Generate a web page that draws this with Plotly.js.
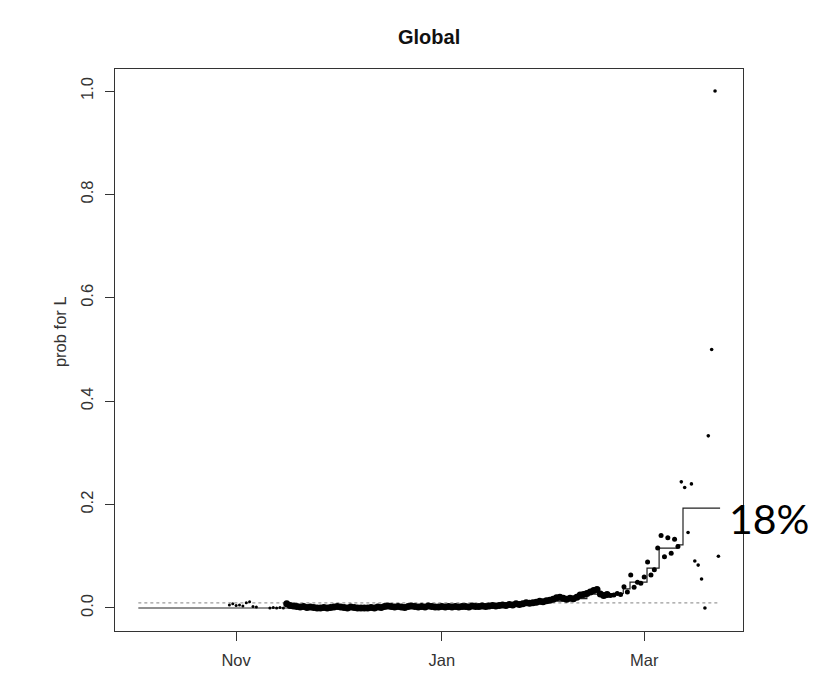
<!DOCTYPE html>
<html>
<head>
<meta charset="utf-8">
<script src="https://cdn.plot.ly/plotly-3.0.1.min.js"></script>
<style>
  html, body { margin: 0; padding: 0; background: #fff; }
  #chart { width: 826px; height: 675px; }
</style>
</head>
<body>
<div id="chart"></div>
<script>
// ---- daily estimates (dots) ----
const earlyDates = ['2019-10-30','2019-10-31','2019-11-01','2019-11-02','2019-11-03','2019-11-04','2019-11-05','2019-11-06','2019-11-07',
  '2019-11-11','2019-11-12','2019-11-13','2019-11-14','2019-11-15'];
const earlyValues = [0.006,0.008,0.005,0.006,0.004,0.010,0.012,0.003,0.002,
  0.000,0.001,0.000,0.001,0.000];

const novDates = ['2019-11-16','2019-11-17','2019-11-18','2019-11-19','2019-11-20','2019-11-21','2019-11-22','2019-11-23','2019-11-24','2019-11-25',
  '2019-11-26','2019-11-27','2019-11-28','2019-11-29','2019-11-30'];
const novValues = [0.008,0.005,0.004,0.003,0.002,0.003,0.001,0.002,0.001,0.000,0.000,0.001,0.000,0.001,0.002];

const decDates = ['2019-12-01','2019-12-02','2019-12-03','2019-12-04','2019-12-05','2019-12-06','2019-12-07','2019-12-08','2019-12-09','2019-12-10',
  '2019-12-11','2019-12-12','2019-12-13','2019-12-14','2019-12-15','2019-12-16','2019-12-17','2019-12-18','2019-12-19','2019-12-20',
  '2019-12-21','2019-12-22','2019-12-23','2019-12-24','2019-12-25','2019-12-26','2019-12-27','2019-12-28','2019-12-29','2019-12-30','2019-12-31'];
const decValues = [0.003,0.002,0.001,0.000,0.002,0.001,0.000,0.000,0.000,0.000,
  0.001,0.000,0.002,0.001,0.003,0.004,0.003,0.002,0.003,0.002,
  0.001,0.003,0.004,0.003,0.002,0.003,0.002,0.004,0.003,0.002,0.002];

const janDates = ['2020-01-01','2020-01-02','2020-01-03','2020-01-04','2020-01-05','2020-01-06','2020-01-07','2020-01-08','2020-01-09','2020-01-10',
  '2020-01-11','2020-01-12','2020-01-13','2020-01-14','2020-01-15','2020-01-16','2020-01-17','2020-01-18','2020-01-19','2020-01-20',
  '2020-01-21','2020-01-22','2020-01-23','2020-01-24','2020-01-25','2020-01-26','2020-01-27','2020-01-28','2020-01-29','2020-01-30','2020-01-31'];
const janValues = [0.003,0.002,0.003,0.002,0.003,0.002,0.003,0.003,0.002,0.004,
  0.003,0.003,0.004,0.003,0.004,0.005,0.004,0.005,0.006,0.005,
  0.007,0.006,0.008,0.007,0.008,0.010,0.009,0.010,0.011,0.013,0.012];

const febDates = ['2020-02-01','2020-02-02','2020-02-03','2020-02-04','2020-02-05','2020-02-06','2020-02-07','2020-02-08','2020-02-09','2020-02-10',
  '2020-02-11','2020-02-12','2020-02-13','2020-02-14','2020-02-15','2020-02-16','2020-02-17','2020-02-18','2020-02-19','2020-02-20',
  '2020-02-21','2020-02-22','2020-02-23','2020-02-24','2020-02-25','2020-02-26','2020-02-27','2020-02-28','2020-02-29'];
const febValues = [0.014,0.015,0.017,0.020,0.021,0.019,0.017,0.019,0.018,0.021,
  0.025,0.026,0.028,0.031,0.034,0.036,0.027,0.024,0.026,0.024,
  0.025,0.028,0.026,0.041,0.031,0.064,0.040,0.050,0.048];

const marDates = ['2020-03-01','2020-03-02','2020-03-03','2020-03-04','2020-03-05','2020-03-06','2020-03-07','2020-03-08','2020-03-09','2020-03-10',
  '2020-03-11','2020-03-12','2020-03-13','2020-03-14','2020-03-15','2020-03-16','2020-03-17','2020-03-18','2020-03-19','2020-03-20',
  '2020-03-21','2020-03-22','2020-03-23'];
const marValues = [0.060,0.089,0.064,0.074,0.116,0.140,0.099,0.136,0.106,0.133,
  0.119,0.244,0.233,0.146,0.240,0.091,0.083,0.056,0.000,0.333,
  0.500,1.000,0.100];

// ---- step estimate (solid line) ----
const stepDates = ['2019-10-03','2019-11-25','2020-01-06','2020-01-16','2020-01-24','2020-01-31','2020-02-07','2020-02-13','2020-02-19',
  '2020-02-23 19:00','2020-02-25 19:00','2020-03-01 20:00','2020-03-05 10:00','2020-03-10 18:00','2020-03-12 12:00','2020-03-23 12:00'];
const stepValues = [0,0.001,0.003,0.005,0.008,0.013,0.018,0.027,0.028,
  0.037,0.050,0.077,0.116,0.122,0.193,0.193];

// ---- baseline (dotted) ----
const baseDates = ['2019-10-03','2020-03-23'];
const baseValues = [0.01,0.01];

// ---- labels ----
const chartTitle = 'Global';
const yLabel = 'prob for L';
const calloutText = '18%';
const yTickVals = [0,0.2,0.4,0.6,0.8,1.0];
const xTickVals = ['2019-11-01','2020-01-01','2020-03-01'];
const xTickText = ['Nov','Jan','Mar'];

const dotDates = [].concat(earlyDates, novDates, decDates, janDates, febDates, marDates);
const dotValues = [].concat(earlyValues, novValues, decValues, janValues, febValues, marValues);

function dotSize(d) {
  if (d < '2019-11-16') return 3;
  if (d < '2020-02-20') return 7;
  if (d < '2020-03-12') return 5;
  return 3.6;
}

const traces = [
  { x: baseDates, y: baseValues, type: 'scatter', mode: 'lines',
    line: { color: '#9a9a9a', width: 1.4, dash: 'dot' }, hoverinfo: 'skip' },
  { x: stepDates, y: stepValues, type: 'scatter', mode: 'lines',
    line: { color: '#222', width: 1.2, shape: 'hv' }, hoverinfo: 'skip' },
  { x: dotDates, y: dotValues, type: 'scatter', mode: 'markers',
    marker: { color: '#000', opacity: 1, size: dotDates.map(dotSize), line: { width: 0 } } }
];

const font = 'Liberation Sans, Arial, sans-serif';
const layout = {
  width: 826, height: 675,
  margin: { l: 115, r: 83, t: 69, b: 44 },
  paper_bgcolor: '#fff', plot_bgcolor: '#fff',
  showlegend: false,
  font: { family: font, color: '#222', size: 16 },
  title: { text: '<b>' + chartTitle + '</b>', x: 0.5195, xanchor: 'center', y: 0.945, yanchor: 'middle',
    yref: 'container', font: { family: font, size: 20, color: '#111' } },
  xaxis: {
    type: 'date', range: ['2019-09-26 02:00', '2020-03-30 07:00'],
    tickmode: 'array', tickvals: xTickVals, ticktext: xTickText,
    ticks: 'outside', ticklen: 9, tickwidth: 1, tickcolor: '#333',
    ticklabelstandoff: 5,
    showline: true, linecolor: '#333', linewidth: 1, mirror: true,
    showgrid: false, zeroline: false,
    tickfont: { family: font, size: 16.5, color: '#333' }
  },
  yaxis: {
    range: [-0.0445, 1.0426],
    tickmode: 'array', tickvals: yTickVals, tickformat: '.1f',
    tickangle: -90,
    ticks: 'outside', ticklen: 9, tickwidth: 1, tickcolor: '#333',
    ticklabelstandoff: 5,
    showline: true, linecolor: '#333', linewidth: 1, mirror: true,
    showgrid: false, zeroline: false,
    tickfont: { family: font, size: 16.5, color: '#333' }
  },
  annotations: [
    { text: yLabel, xref: 'paper', yref: 'paper', x: -0.0875, y: 0.532,
      xanchor: 'center', yanchor: 'middle', textangle: -90, showarrow: false,
      font: { family: font, size: 16.5, color: '#333' } },
    { text: calloutText, xref: 'paper', yref: 'paper', x: 1.042, y: 0.201,
      xanchor: 'center', yanchor: 'middle', showarrow: false,
      font: { family: 'Lato, sans-serif', size: 41, color: '#000' } }
  ]
};

Plotly.newPlot('chart', traces, layout, { staticPlot: true, displayModeBar: false });
</script>
</body>
</html>
